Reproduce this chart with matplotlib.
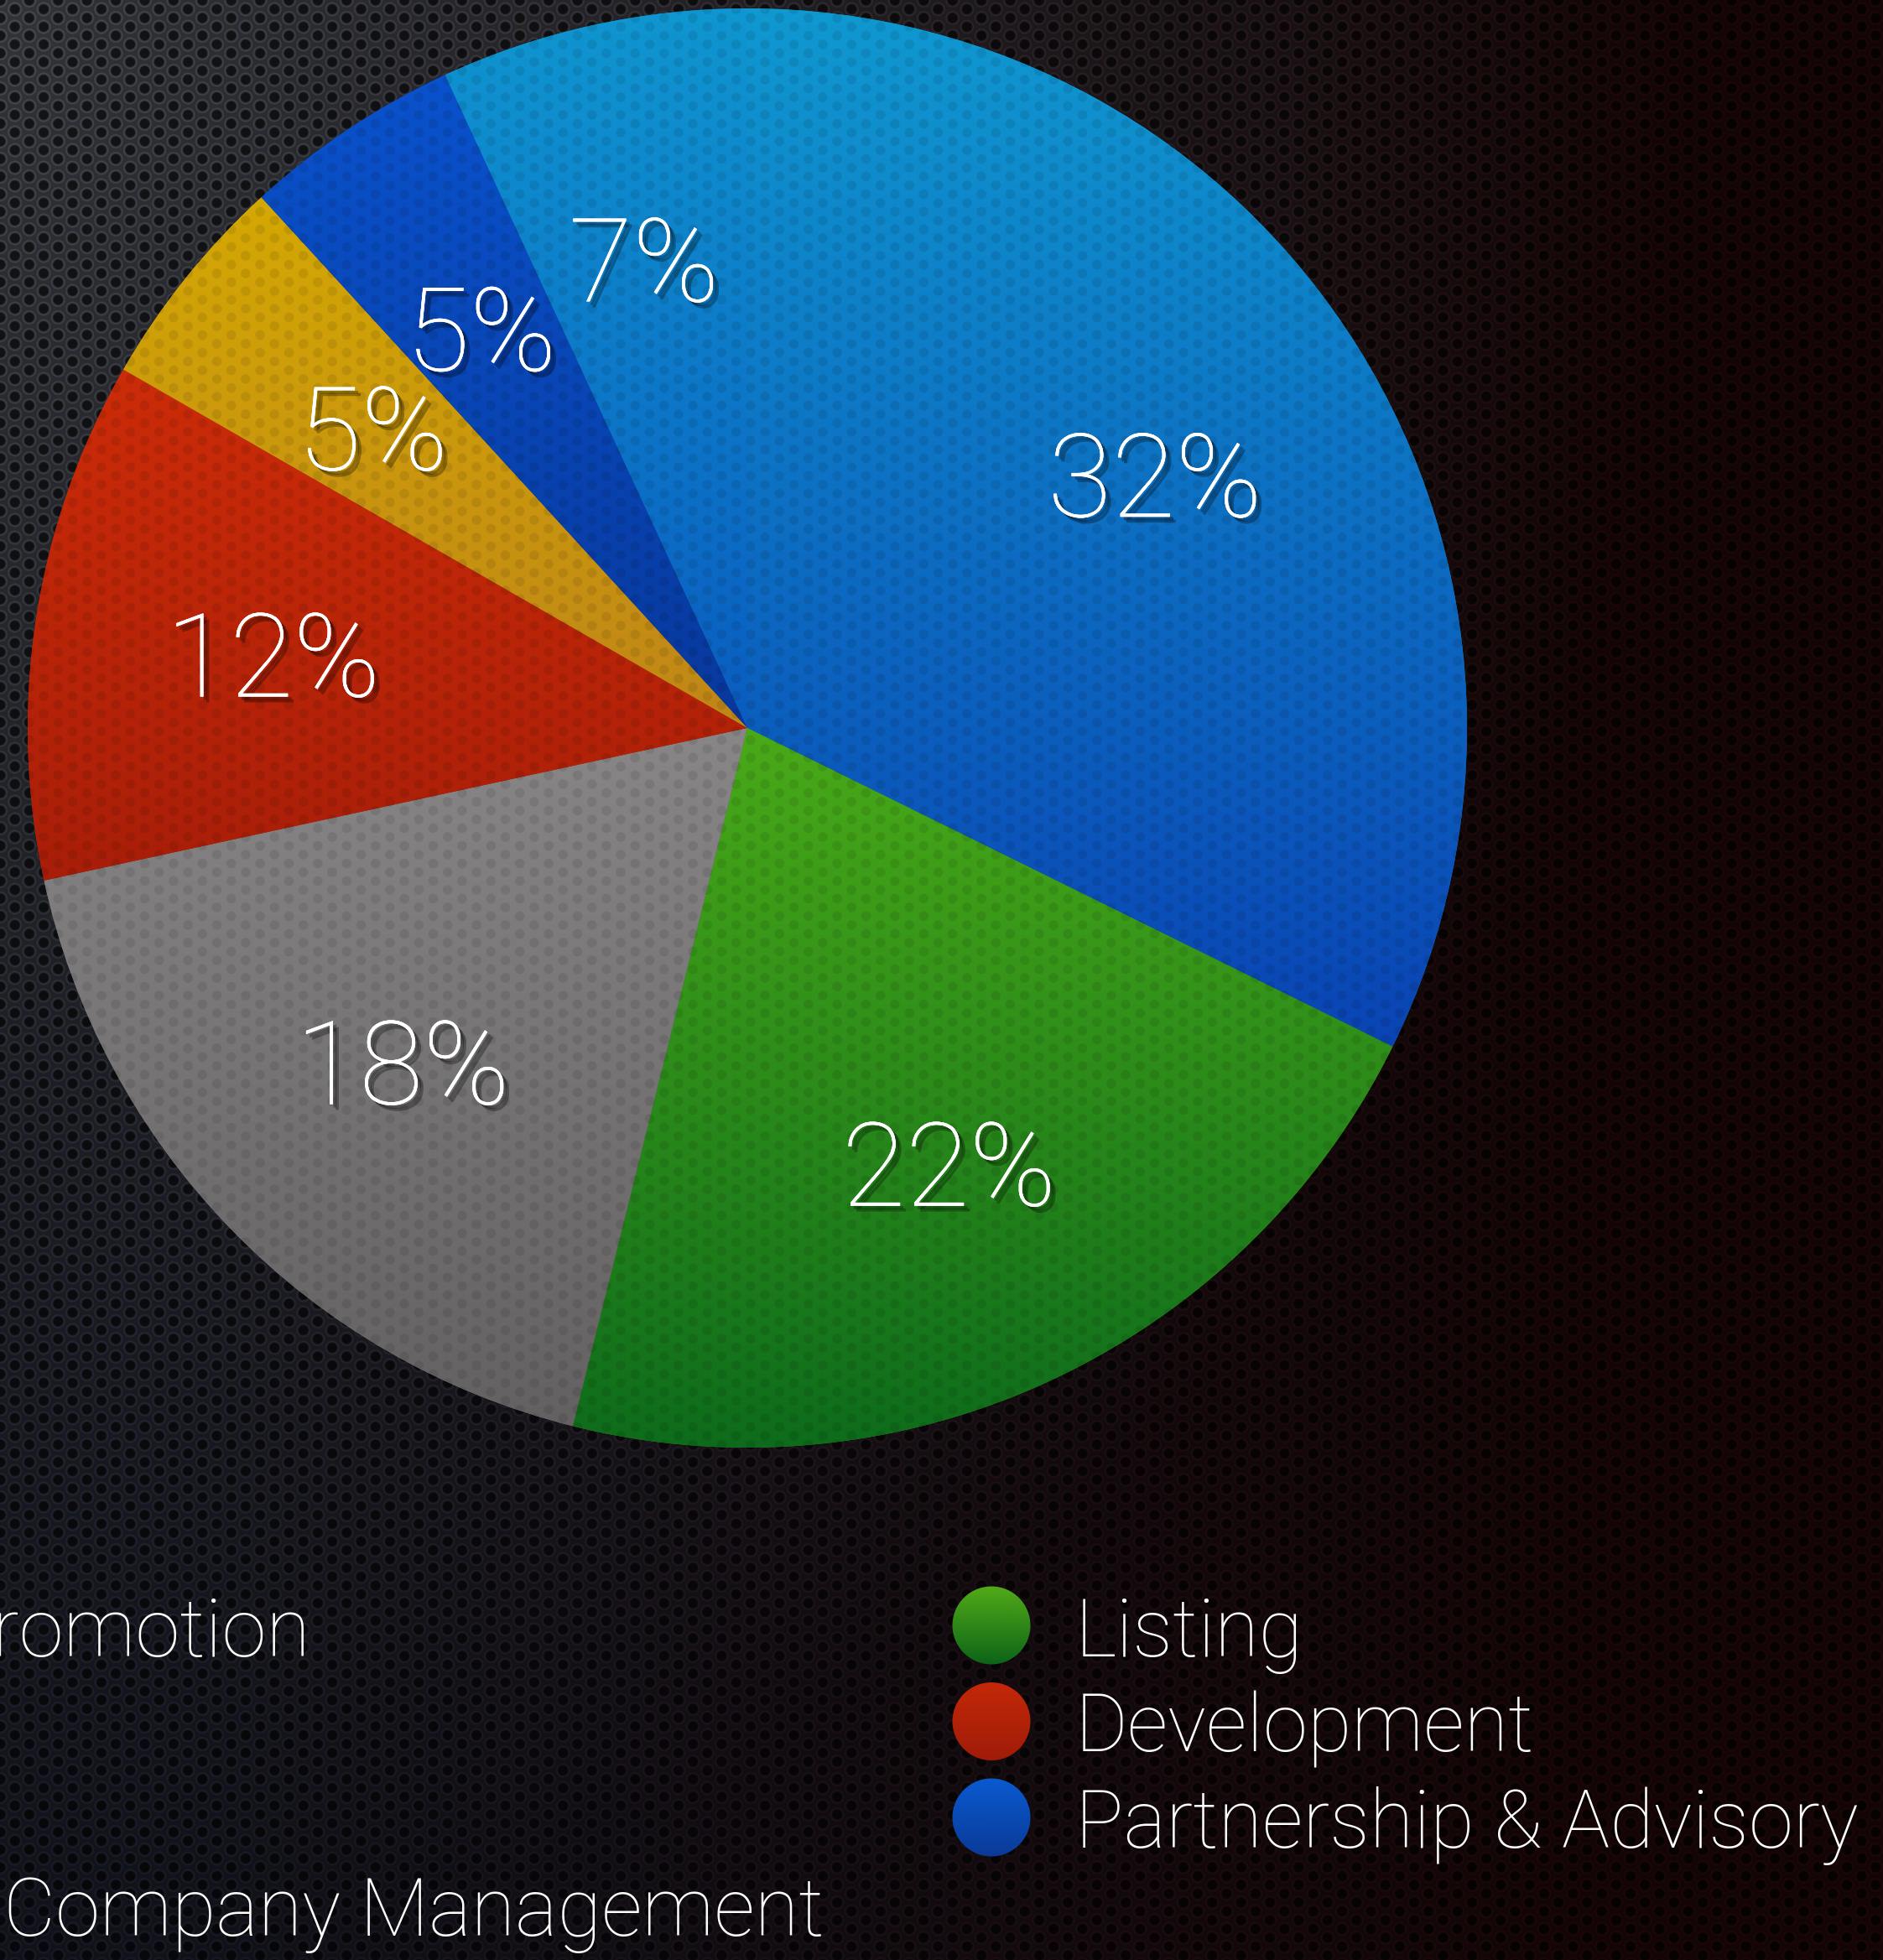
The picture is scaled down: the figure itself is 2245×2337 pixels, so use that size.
import numpy as np
import matplotlib
matplotlib.use("Agg")
import matplotlib.pyplot as plt
import matplotlib.patheffects as pe
from matplotlib.colors import LinearSegmentedColormap
from matplotlib.patches import Circle

# data
slice_values = [32.3, 21.6, 17.7, 11.7, 4.9, 4.9, 6.9]
slice_top = ["#1098d0", "#4aaa18", "#888686", "#cc2c08", "#d4a804", "#0a52cc", "#1096d0"]
slice_bottom = ["#0a44b4", "#0c6a1c", "#636161", "#a81e08", "#c08618", "#08389c", "#0a5cc0"]

legend_names = ["Listing", "Development", "Partnership & Advisory"]
legend_top = ["#52aa18", "#c42808", "#0a5ad0"]
legend_bottom = ["#0c6418", "#a01c08", "#0a3a98"]

# legend column whose markers fall off the left edge
left_names = ["Promotion", "Company Management"]

W, H = 2245, 2337
FONT = ["Roboto", "DejaVu Sans"]

fig = plt.figure(figsize=(W / 100, H / 100), dpi=100)
ax = fig.add_axes([0, 0, 1, 1])

# perforated metal background
yy, xx = np.mgrid[0:H, 0:W].astype(np.float32)
px, py = 17.2, 21.0


def lattice_dist(x, y, ox, oy):
    dx = np.mod(x - ox, 2 * px)
    dx = np.minimum(dx, 2 * px - dx)
    dy = np.mod(y - oy, py)
    dy = np.minimum(dy, py - dy)
    return np.hypot(dx, dy)


d = np.minimum(lattice_dist(xx, yy, 0, 0), lattice_dist(xx, yy, px, py / 2))
u, v = xx / W, yy / H
a = np.clip(np.sqrt((u / 0.9) ** 2 + (v / 1.0) ** 2), 0, 1) ** 0.8
r = np.clip(u * 1.3 - 0.1, 0, 1)
c_tl = np.array([0.20, 0.205, 0.22], dtype=np.float32)
c_blue = np.array([0.065, 0.07, 0.10], dtype=np.float32)
c_red = np.array([0.075, 0.02, 0.02], dtype=np.float32)
c_end = c_blue * (1 - r[..., None]) + c_red * r[..., None]
base = c_tl * (1 - a[..., None]) + c_end * a[..., None]
hole = np.clip((6.3 - d) / 1.2, 0, 1)
ring = np.clip(1 - np.abs(d - 7.6) / 1.5, 0, 1)
factor = 1 - 0.6 * hole + 0.5 * ring
bg = np.clip(base * factor[..., None], 0, 1)
ax.imshow(bg, extent=(0, W, 0, H), origin="upper", interpolation="nearest", zorder=0)

# pie
cx, cy, R = 891, H - 868, 858
wedges, texts, autotexts = ax.pie(
    slice_values, colors=slice_top, startangle=90, counterclock=False,
    radius=R, center=(cx, cy), autopct=lambda p: f"{p:.0f}%",
    pctdistance=0.667, frame=True,
    wedgeprops=dict(linewidth=0.8, edgecolor=(0, 0, 0, 0.15)),
    textprops=dict(color="white", fontsize=100, family=FONT, weight="light"),
)

grad = np.linspace(0, 1, 256)[:, None]
for w, top, bot in zip(wedges, slice_top, slice_bottom):
    verts = w.get_path().vertices
    cmap = LinearSegmentedColormap.from_list("", [top, bot])
    im = ax.imshow(grad, extent=(verts[:, 0].min(), verts[:, 0].max(),
                                 verts[:, 1].min(), verts[:, 1].max()),
                   origin="upper", cmap=cmap, aspect="auto", zorder=1.5)
    im.set_clip_path(w)

# faint dot texture over the pie
dots = np.zeros((H, W, 4), dtype=np.float32)
dots[..., 3] = 0.09 * np.clip((6.5 - d) / 1.5, 0, 1)
im = ax.imshow(dots, extent=(0, W, 0, H), origin="upper", interpolation="nearest", zorder=1.8)
clip = Circle((cx, cy), R, transform=ax.transData)
im.set_clip_path(clip)

for t in autotexts:
    x0, y0 = t.get_position()
    t.set_position((x0, y0 - 12))
    t.set_zorder(3)
    t.set_path_effects([pe.withSimplePatchShadow(offset=(5, -5), shadow_rgbFace="black", alpha=0.3),
                        pe.withSimplePatchShadow(offset=(3, -3), shadow_rgbFace="black", alpha=0.3),
                        pe.Normal()])

# legend
for i, (name, top, bot) in enumerate(zip(legend_names, legend_top, legend_bottom)):
    my = H - (1938 + 114.5 * i)
    circ = Circle((1182, my), 46.5, transform=ax.transData, facecolor="none", edgecolor="none")
    ax.add_patch(circ)
    cmap = LinearSegmentedColormap.from_list("", [top, bot])
    im = ax.imshow(grad, extent=(1182 - 47, 1182 + 47, my - 47, my + 47),
                   origin="upper", cmap=cmap, aspect="auto", zorder=2)
    im.set_clip_path(circ)
    ax.text(1282, H - (1975 + 114 * i), name, color="white", fontsize=69,
            family=FONT, weight="light", va="baseline", ha="left", zorder=3)

ax.text(370, H - 1975, left_names[0], color="white", fontsize=69,
        family=FONT, weight="light", va="baseline", ha="right", zorder=3)
ax.text(4, H - 2308, left_names[1], color="white", fontsize=69,
        family=FONT, weight="light", va="baseline", ha="left", zorder=3)

ax.set_xlim(0, W)
ax.set_ylim(0, H)
ax.set_aspect("auto")
ax.axis("off")

fig.savefig("out.png", dpi=100)
